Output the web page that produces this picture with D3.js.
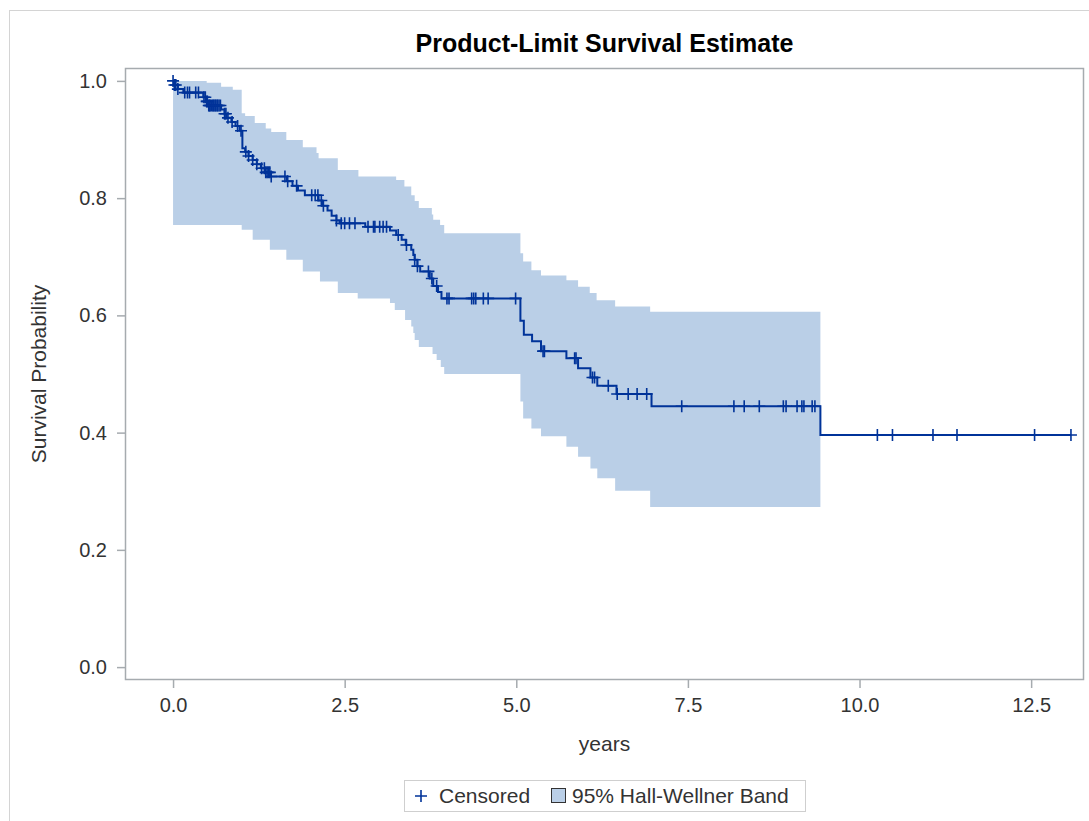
<!DOCTYPE html>
<html>
<head>
<meta charset="utf-8">
<script src="https://cdn.jsdelivr.net/npm/d3@7/dist/d3.min.js"></script>
<style>
  body { margin: 0; background: #fff; }
  text { font-family: 'Liberation Sans', Arial, sans-serif; }
</style>
</head>
<body>
<div id="chart"></div>
<script>
// Kaplan-Meier steps (time in years, survival after the step)
const eventTime = [0, 0.01, 0.07, 0.15, 0.44, 0.49, 0.52, 0.70, 0.75, 0.78, 0.85, 0.91, 0.97, 1.01, 1.05, 1.10, 1.16, 1.22, 1.28, 1.34, 1.42, 1.66, 1.74, 1.82, 1.92, 2.12, 2.17, 2.25, 2.31, 2.38, 2.43, 2.80, 3.16, 3.25, 3.33, 3.39, 3.47, 3.50, 3.52, 3.56, 3.60, 3.74, 3.79, 3.86, 3.91, 5.06, 5.11, 5.23, 5.36, 5.73, 5.90, 6.08, 6.18, 6.46, 6.97, 9.43]
const survival = [1.000, 0.993, 0.986, 0.980, 0.972, 0.965, 0.958, 0.951, 0.944, 0.937, 0.930, 0.923, 0.915, 0.885, 0.879, 0.872, 0.865, 0.858, 0.851, 0.844, 0.837, 0.829, 0.821, 0.813, 0.805, 0.796, 0.787, 0.779, 0.770, 0.762, 0.757, 0.751, 0.745, 0.737, 0.729, 0.720, 0.712, 0.703, 0.695, 0.684, 0.675, 0.663, 0.650, 0.640, 0.629, 0.591, 0.567, 0.556, 0.539, 0.527, 0.510, 0.494, 0.480, 0.466, 0.445, 0.396]
const lastTime = 13.08

const censorTime = [0.00, 0.02, 0.04, 0.07, 0.17, 0.21, 0.24, 0.33, 0.37, 0.45, 0.47, 0.49, 0.50, 0.52, 0.53, 0.54, 0.56, 0.58, 0.59, 0.61, 0.62, 0.64, 0.65, 0.67, 0.69, 0.75, 0.77, 0.80, 0.86, 0.94, 0.99, 1.06, 1.10, 1.16, 1.22, 1.29, 1.33, 1.35, 1.37, 1.39, 1.41, 1.43, 1.63, 1.67, 1.80, 2.02, 2.07, 2.11, 2.16, 2.19, 2.38, 2.45, 2.50, 2.57, 2.65, 2.84, 2.92, 2.94, 3.01, 3.06, 3.11, 3.28, 3.40, 3.52, 3.56, 3.72, 3.77, 3.84, 3.99, 4.02, 4.35, 4.38, 4.41, 4.52, 4.59, 4.99, 5.39, 5.41, 5.85, 5.87, 6.11, 6.14, 6.34, 6.47, 6.63, 6.76, 6.90, 7.41, 8.17, 8.32, 8.54, 8.89, 8.93, 9.09, 9.16, 9.19, 9.31, 9.35, 10.26, 10.48, 11.07, 11.42, 12.55, 13.08]

// Hall-Wellner band edges
const upperTime = [0, 0.49, 0.70, 0.87, 1.00, 1.05, 1.19, 1.35, 1.43, 1.65, 1.89, 2.09, 2.12, 2.40, 2.70, 3.25, 3.37, 3.47, 3.52, 3.58, 3.77, 3.79, 3.89, 3.95, 5.06, 5.10, 5.22, 5.36, 5.73, 5.90, 6.07, 6.17, 6.44, 6.95]
const upperVal = [1.000, 0.997, 0.990, 0.985, 0.945, 0.940, 0.928, 0.919, 0.913, 0.899, 0.887, 0.877, 0.868, 0.848, 0.837, 0.831, 0.820, 0.805, 0.795, 0.783, 0.772, 0.763, 0.754, 0.740, 0.706, 0.692, 0.677, 0.668, 0.660, 0.649, 0.638, 0.626, 0.615, 0.606]
const lowerTime = [0, 1.00, 1.16, 1.41, 1.65, 1.89, 2.14, 2.40, 2.69, 3.16, 3.23, 3.38, 3.47, 3.50, 3.52, 3.58, 3.78, 3.84, 3.90, 3.95, 5.06, 5.10, 5.22, 5.36, 5.73, 5.90, 6.08, 6.18, 6.44, 6.95]
const lowerVal = [0.754, 0.746, 0.729, 0.712, 0.695, 0.675, 0.658, 0.638, 0.629, 0.621, 0.609, 0.592, 0.581, 0.570, 0.558, 0.546, 0.534, 0.524, 0.512, 0.500, 0.453, 0.424, 0.407, 0.394, 0.376, 0.359, 0.339, 0.322, 0.301, 0.273]
const bandEnd = 9.43

const xTicks = [0, 2.5, 5, 7.5, 10, 12.5]
const yTicks = [0, 0.2, 0.4, 0.6, 0.8, 1.0]

const lineColor = '#003399'
const bandColor = '#bacfe7'
const frameColor = '#a6abaf'

const margin = { top: 68, right: 5, bottom: 141, left: 125 }
const width = 1089 - margin.left - margin.right
const height = 821 - margin.top - margin.bottom

const root = d3.select('#chart')
    .append('svg')
    .attr('width', 1089)
    .attr('height', 821)

// outer border of the graph
root.append('rect')
    .attr('x', 9.5)
    .attr('y', 10.5)
    .attr('width', 1200)
    .attr('height', 1000)
    .attr('fill', 'none')
    .attr('stroke', '#d4d4d4')

root.append('text')
    .attr('x', margin.left + width / 2)
    .attr('y', 52)
    .attr('text-anchor', 'middle')
    .style('font-size', '25px')
    .style('font-weight', 'bold')
    .style('fill', '#000')
    .text('Product-Limit Survival Estimate')

const svg = root.append('g')
    .attr('transform', `translate(${margin.left}, ${margin.top})`)

const x = d3.scaleLinear().domain([-0.70, 13.27]).range([0, width])
const y = d3.scaleLinear().domain([-0.022, 1.022]).range([height, 0])

const stepValue = (times, vals, t) => vals[Math.max(0, d3.bisectRight(times, t) - 1)]

// merge the band edge times so one area can be drawn
const bandTimes = Array.from(new Set(upperTime.concat(lowerTime))).sort((a, b) => a - b)
const band = bandTimes.map(t => ({ t: t, lo: stepValue(lowerTime, lowerVal, t), hi: stepValue(upperTime, upperVal, t) }))
band.push({ t: bandEnd, lo: lowerVal[lowerVal.length - 1], hi: upperVal[upperVal.length - 1] })

svg.append('path')
    .datum(band)
    .attr('fill', bandColor)
    .attr('d', d3.area()
        .curve(d3.curveStepAfter)
        .x(d => x(d.t))
        .y0(d => y(d.lo))
        .y1(d => y(d.hi)))

const km = eventTime.map((t, i) => ({ t: t, s: survival[i] }))
km.push({ t: lastTime, s: survival[survival.length - 1] })

svg.append('path')
    .datum(km)
    .attr('fill', 'none')
    .attr('stroke', lineColor)
    .attr('stroke-width', 2)
    .attr('d', d3.line()
        .curve(d3.curveStepAfter)
        .x(d => x(d.t))
        .y(d => y(d.s)))

const cross = 'M-6,0H6M0,-6V6'
svg.append('g')
    .selectAll('path')
    .data(censorTime)
    .join('path')
    .attr('transform', t => `translate(${x(t)}, ${y(stepValue(eventTime, survival, t))})`)
    .attr('d', cross)
    .attr('fill', 'none')
    .attr('stroke', lineColor)
    .attr('stroke-width', 1.6)

// frame
svg.append('rect')
    .attr('x', 0.5)
    .attr('y', 0.5)
    .attr('width', width - 1)
    .attr('height', height - 1)
    .attr('fill', 'none')
    .attr('stroke', frameColor)
    .attr('stroke-width', 1.5)

const xAxis = svg.append('g')
    .attr('transform', `translate(0, ${height})`)
    .call(d3.axisBottom(x).tickValues(xTicks).tickFormat(d3.format('.1f')).tickSize(8).tickPadding(10))
const yAxis = svg.append('g')
    .call(d3.axisLeft(y).tickValues(yTicks).tickFormat(d3.format('.1f')).tickSize(8).tickPadding(10))

for (const ax of [xAxis, yAxis]) {
    ax.select('.domain').remove()
    ax.selectAll('.tick line').attr('stroke', frameColor).attr('stroke-width', 1.5)
    ax.selectAll('.tick text')
        .style('font-family', "'Liberation Sans', Arial, sans-serif")
        .style('font-size', '20px')
        .attr('fill', '#333')
}

root.append('text')
    .attr('x', margin.left + width / 2)
    .attr('y', 751)
    .attr('text-anchor', 'middle')
    .style('font-size', '21px')
    .style('fill', '#333')
    .text('years')

root.append('text')
    .attr('transform', `translate(46, ${margin.top + height / 2}) rotate(-90)`)
    .attr('text-anchor', 'middle')
    .style('font-size', '21px')
    .style('fill', '#333')
    .text('Survival Probability')

// legend
const legend = root.append('g')
legend.append('rect')
    .attr('x', 404.5)
    .attr('y', 780.5)
    .attr('width', 401)
    .attr('height', 31)
    .attr('fill', '#fff')
    .attr('stroke', '#cfcfcf')
legend.append('path')
    .attr('transform', 'translate(421, 796)')
    .attr('d', cross)
    .attr('stroke', lineColor)
    .attr('stroke-width', 1.6)
legend.append('text')
    .attr('x', 439)
    .attr('y', 803)
    .style('font-size', '21px')
    .style('fill', '#333')
    .text('Censored')
legend.append('rect')
    .attr('x', 551.5)
    .attr('y', 788.5)
    .attr('width', 14)
    .attr('height', 14)
    .attr('fill', bandColor)
    .attr('stroke', '#333')
legend.append('text')
    .attr('x', 572)
    .attr('y', 803)
    .style('font-size', '21px')
    .style('fill', '#333')
    .text('95% Hall-Wellner Band')
</script>
</body>
</html>
